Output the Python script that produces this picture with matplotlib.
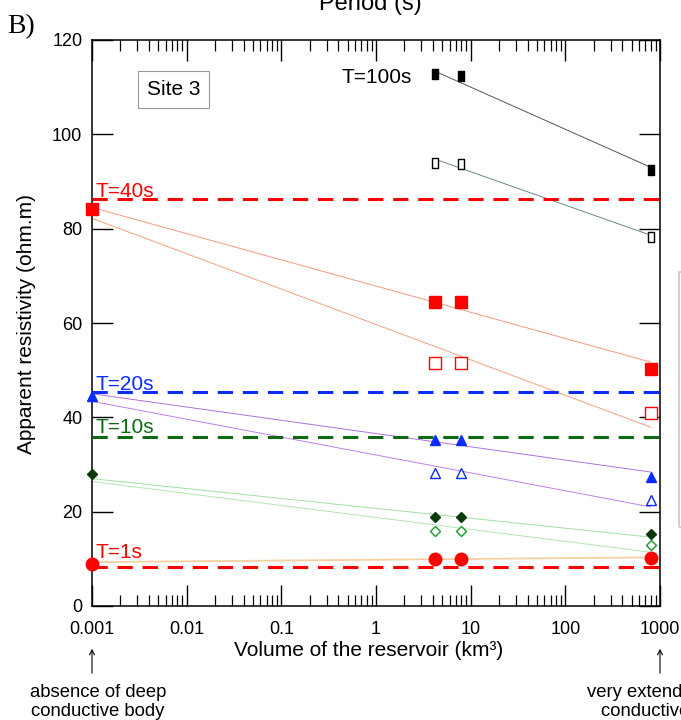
"""Site 3: apparent resistivity vs reservoir volume."""
import matplotlib
matplotlib.use("Agg")
import matplotlib.pyplot as plt
import numpy as np
from matplotlib.path import Path
from matplotlib.patches import Rectangle


plt.rcParams["font.family"] = ["Liberation Sans", "DejaVu Sans"]

# ─────────────────────────────────────────────────────────────────────────────
# data
# ─────────────────────────────────────────────────────────────────────────────
volume = [0.001, 4.2, 8.0, 800.0]          # km3
nan = np.nan

rho_100_full = [nan, 112.8, 112.3, 92.5]
rho_100_open = [nan, 94.0, 93.8, 78.2]
rho_40_full = [84.2, 64.4, 64.4, 50.3]
rho_40_open = [nan, 51.5, 51.5, 41.0]
rho_20_full = [44.5, 35.2, 35.2, 27.3]
rho_20_open = [nan, 28.2, 28.2, 22.4]
rho_10_full = [28.0, 18.9, 18.9, 15.3]
rho_10_open = [nan, 15.8, 15.8, 13.0]
rho_1_full = [9.0, 10.0, 10.0, 10.2]

# trend lines: (x start, x end), (y start, y end)
fit_x_long = [0.001, 800.0]
fit_x_short = [4.4, 800.0]
fit_100_full = [113.2, 93.0]
fit_100_open = [94.6, 78.6]
fit_40_full = [84.5, 51.7]
fit_40_open = [82.2, 37.9]
fit_20_full = [45.0, 28.4]
fit_20_open = [43.4, 21.0]
fit_10_full = [27.0, 14.6]
fit_10_open = [26.4, 11.4]
fit_1 = [9.3, 10.3]

# half-space (homogeneous) reference levels
level_40 = 86.2
level_20 = 45.3
level_10 = 35.8
level_1 = 8.3

x_ticks = [0.001, 0.01, 0.1, 1, 10, 100, 1000]
x_tick_labels = ["0.001", "0.01", "0.1", "1", "10", "100", "1000"]
y_ticks = [0, 20, 40, 60, 80, 100, 120]

RED = "#ff0000"
BLUE = "#0a2cff"
DGREEN = "#0b6a12"

# tall thin rectangle marker for T=100s
TALL = Path([(-0.5, -1), (0.5, -1), (0.5, 1), (-0.5, 1), (-0.5, -1)],
            [Path.MOVETO, Path.LINETO, Path.LINETO, Path.LINETO, Path.CLOSEPOLY])


W, H = 681, 720
fig = plt.figure(figsize=(W / 100, H / 100), dpi=100)
ax = fig.add_axes([92 / W, 1 - 606 / H, (660 - 92) / W, (606 - 40) / H])

ax.set_xscale("log")
ax.set_xlim(0.001, 1000)
ax.set_ylim(0, 120)

# trend lines
ax.plot(fit_x_short, fit_100_full, color="#555555", lw=0.7, zorder=2)
ax.plot(fit_x_short, fit_100_open, color="#6a8a8a", lw=0.7, zorder=2)
ax.plot(fit_x_long, fit_40_full, color="#f59a80", lw=0.7, zorder=2)
ax.plot(fit_x_long, fit_40_open, color="#f5a080", lw=0.7, zorder=2)
ax.plot(fit_x_long, fit_20_full, color="#b070e0", lw=0.7, zorder=2)
ax.plot(fit_x_long, fit_20_open, color="#c080e8", lw=0.7, zorder=2)
ax.plot(fit_x_long, fit_10_full, color="#a0e0a0", lw=0.7, zorder=2)
ax.plot(fit_x_long, fit_10_open, color="#b0e8b0", lw=0.7, zorder=2)
ax.plot(fit_x_long, fit_1, color="#f7d0a0", lw=1.3, zorder=2)

# dashed reference levels
dash = dict(lw=2.2, dashes=(5, 3.2), zorder=3)
ax.axhline(level_40, color=RED, **dash)
ax.axhline(level_20, color=BLUE, **dash)
ax.axhline(level_10, color=DGREEN, **dash)
ax.axhline(level_1, color=RED, **dash)

# markers
mk = dict(ls="none", zorder=5, clip_on=False)
ax.plot(volume, rho_100_full, marker=TALL, ms=7.5, color="black", **mk)
ax.plot(volume, rho_100_open, marker=TALL, ms=7.5, mfc="white", mec="black",
        mew=1.0, **mk)
ax.plot(volume, rho_40_full, marker="s", ms=8.5, color=RED, **mk)
ax.plot(volume, rho_40_open, marker="s", ms=8, mfc="white", mec=RED,
        mew=1.0, **mk)
ax.plot(volume, rho_20_full, marker="^", ms=7.5, color=BLUE, **mk)
ax.plot(volume, rho_20_open, marker="^", ms=7, mfc="white", mec=BLUE,
        mew=1.0, **mk)
ax.plot(volume, rho_10_full, marker="D", ms=5, color="#0a3a0a", **mk)
ax.plot(volume, rho_10_open, marker="D", ms=5, mfc="white", mec="#1a9a2a",
        mew=1.0, **mk)
ax.plot(volume, rho_1_full, marker="o", ms=9, color=RED, **mk)

# period labels
lab = dict(fontsize=15, va="baseline", ha="left")
ax.text(0.00108, 86.7, "T=40s", color=RED, **lab)
ax.text(0.00108, 45.8, "T=20s", color=BLUE, **lab)
ax.text(0.00108, 36.6, "T=10s", color=DGREEN, **lab)
ax.text(0.00108, 10.2, "T=1s", color=RED, **lab)
ax.text(0.43, 110.8, "T=100s", color="black", **lab)

# site box
ax.text(0.0073, 109.5, "Site 3", fontsize=15, ha="center", va="center",
        bbox=dict(boxstyle="square,pad=0.42", fc="white", ec="#999999", lw=0.8))

# axes styling
for s in ax.spines.values():
    s.set_linewidth(1.1)
ax.set_xticks(x_ticks)
ax.set_xticklabels(x_tick_labels)
ax.set_yticks(y_ticks)
ax.tick_params(axis="both", which="major", direction="in", top=True,
               right=True, labelsize=13, width=1.0)
ax.tick_params(axis="x", which="major", length=15, pad=11)
ax.tick_params(axis="y", which="major", length=15, pad=7)
ax.tick_params(axis="x", which="minor", direction="in", top=True,
               length=8, width=0.9)
ax.tick_params(axis="y", which="minor", left=False, right=False)

fig.text(369 / W, 1 - 651 / H, "Volume of the reservoir (km³)",
         fontsize=15, ha="center", va="center")
fig.text(27 / W, 1 - 324 / H, "Apparent resistivity (ohm.m)",
         fontsize=15, ha="center", va="center", rotation=90)
fig.text(370 / W, 1 - 10 / H, "Period (s)", fontsize=17, ha="center",
         va="baseline")
fig.text(7 / W, 1 - 33 / H, "B)", fontsize=20, ha="left", va="baseline",
         family=["Liberation Serif", "DejaVu Serif"])

# arrows and notes below the axis
arrow = dict(arrowstyle="->,head_length=0.35,head_width=0.18", lw=0.8,
             color="black")
for xv in (0.001, 1000):
    ax.annotate("", xy=(xv, 1 - 646 / H), xytext=(xv, 1 - 676 / H),
                xycoords=("data", "figure fraction"),
                textcoords=("data", "figure fraction"),
                arrowprops=arrow, annotation_clip=False)
fig.text(98 / W, 1 - 684 / H, "absence of deep\nconductive body",
         fontsize=13.3, ha="center", va="top", linespacing=1.15)
fig.text(668 / W, 1 - 684 / H, "very extended deep\nconductive body",
         fontsize=13.3, ha="center", va="top", linespacing=1.15)

# partly hidden box on the right edge
fig.patches.append(Rectangle((679 / W, 1 - 527 / H), 30 / W, 255 / H,
                             transform=fig.transFigure, fill=False,
                             ec="#c8c8c8", lw=1.2))

fig.savefig("out.png", dpi=100)
